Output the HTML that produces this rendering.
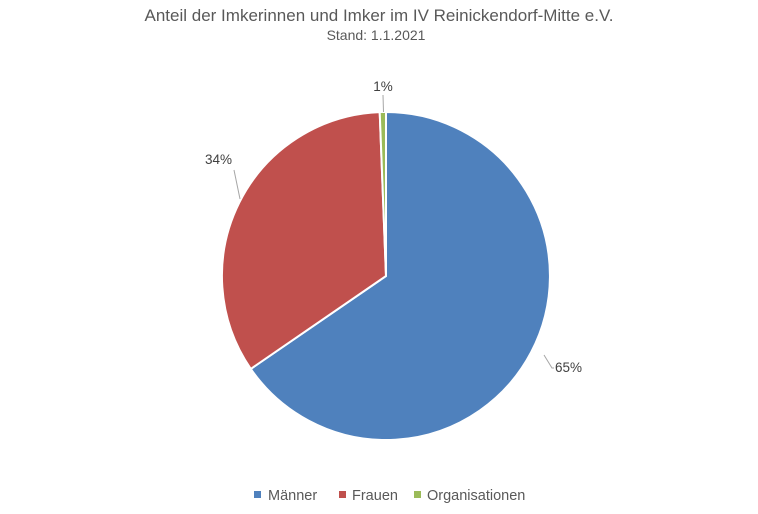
<!DOCTYPE html>
<html><head><meta charset="utf-8"><style>
html,body{margin:0;padding:0;background:#fff;}
svg{display:block;font-family:"Liberation Sans",sans-serif;}
</style></head><body>
<svg width="758" height="514" viewBox="0 0 758 514" xmlns="http://www.w3.org/2000/svg">
<rect width="758" height="514" fill="#fff"/>
<text x="379" y="21" text-anchor="middle" font-size="17" fill="#595959">Anteil der Imkerinnen und Imker im IV Reinickendorf-Mitte e.V.</text>
<text x="376" y="40" text-anchor="middle" font-size="14" fill="#595959">Stand: 1.1.2021</text>
<g stroke="#fff" stroke-width="2" stroke-linejoin="round">
<path d="M386,276 L386,112 A164,164 0 1 1 250.8,368.9 Z" fill="#4f81bd"/>
<path d="M386,276 L250.8,368.9 A164,164 0 0 1 379.7,112.1 Z" fill="#c0504d"/>
<path d="M386,276 L379.7,112.1 A164,164 0 0 1 386,112 Z" fill="#9bbb59"/>
</g>
<g stroke="#a6a6a6" stroke-width="1" fill="none">
<line x1="383" y1="95" x2="383.5" y2="112"/>
<line x1="234" y1="170" x2="240" y2="199"/>
<polyline points="544,355 552,368 554,368"/>
</g>
<g font-size="13.5" fill="#404040">
<text x="383" y="91" text-anchor="middle">1%</text>
<text x="205" y="164">34%</text>
<text x="555" y="372">65%</text>
</g>
<g font-size="14.5" fill="#595959">
<rect x="254" y="491" width="7" height="7" fill="#4f81bd"/>
<text x="268" y="500">Männer</text>
<rect x="339" y="491" width="7" height="7" fill="#c0504d"/>
<text x="352" y="500">Frauen</text>
<rect x="414" y="491" width="7" height="7" fill="#9bbb59"/>
<text x="427" y="500">Organisationen</text>
</g>
</svg>
</body></html>
